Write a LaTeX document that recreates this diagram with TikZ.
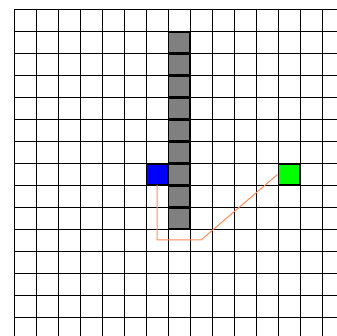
\documentclass[tikz,border=0pt]{standalone}
\begin{document}
\begin{tikzpicture}[x=1pt,y=-1pt,
  cell/.style={draw=black,line width=1.6pt,minimum size=21pt,inner sep=0pt,outer sep=0pt},
  wall/.style={cell,fill={rgb,255:red,128;green,128;blue,128}},
  gridline/.style={draw=black,line width=1pt},
  route/.style={draw={rgb,255:red,255;green,140;blue,90},line width=1pt}]
\useasboundingbox (0,0) rectangle (337,336);
\fill[white] (0,0) rectangle (337,336);
% grid
\foreach \i in {0,...,14} {
  \draw[gridline] (14+22*\i,9.5) -- (14+22*\i,336);
}
\foreach \j in {0,...,14} {
  \draw[gridline] (14,9.5+22*\j) -- (337,9.5+22*\j);
}
% wall cells, column 7, rows 1..9
\foreach \r in {1,...,9} {
  \node[wall] (w\r) at (179,20.5+22*\r) {};
}
\node[cell,fill={rgb,255:red,0;green,0;blue,255}] (start) at (157,174.5) {};
\node[cell,fill={rgb,255:red,0;green,255;blue,0}] (goal) at (289,174.5) {};
% route
\coordinate (c1) at (157,240);
\coordinate (c2) at (201,240);
\draw[route] (start.south) -- (c1) -- (c2) -- ([xshift=-1pt]goal.west);
\end{tikzpicture}
\end{document}
